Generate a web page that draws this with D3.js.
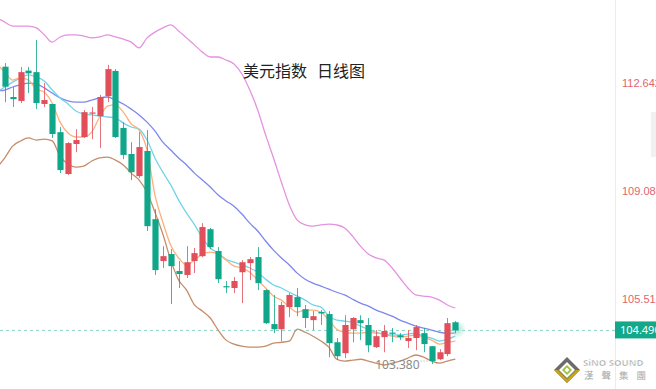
<!DOCTYPE html>
<html>
<head>
<meta charset="utf-8">
<script src="https://cdn.jsdelivr.net/npm/d3@7"></script>
<style>
  html, body { margin: 0; padding: 0; background: #fff; overflow: hidden; }
  svg { display: block; font-family: "Noto Sans", "Noto Sans CJK SC", sans-serif; }
</style>
</head>
<body>
<div id="chart"></div>
<script>
var chart_width  = 656;
var chart_height = 389;
var axis_x = 615;

// daily candles: open / high / low / close
var opens  = [113.19,112.19,112.06,113.06,113.01,111.96,111.96,111.03,109.65,110.64,110.87,111.65,111.56,112.22,113.05,111.17,110.31,109.58,110.41,108.16,106.78,107.01,106.45,106.32,106.78,106.94,107.83,107.11,105.95,105.89,106.41,106.71,106.91,105.82,104.70,104.53,105.26,105.59,105.19,104.83,105.10,105.03,104.10,103.74,104.53,104.83,104.67,103.94,104.27,104.42,104.33,104.14,104.24,104.40,103.97,103.54,103.71,104.76];
var highs  = [113.31,112.52,113.18,113.18,114.07,112.65,111.96,111.20,110.70,111.13,111.76,111.86,112.26,113.25,113.11,111.36,110.70,111.03,111.10,108.49,107.27,107.17,106.78,107.27,107.21,108.03,107.87,107.24,106.12,106.25,106.81,106.91,107.24,105.85,105.66,105.43,105.72,105.89,105.33,105.13,105.16,105.13,104.24,104.99,104.93,104.99,104.90,104.50,104.67,104.57,104.40,104.50,104.67,104.57,103.97,103.87,104.90,104.80];
var lows   = [112.02,111.86,111.99,112.32,111.79,111.86,110.84,109.68,109.62,110.37,110.84,110.80,110.51,112.02,110.84,110.14,109.45,109.52,107.77,106.32,106.55,105.36,105.89,106.22,106.38,106.91,107.17,106.05,105.72,105.72,105.39,106.15,105.82,104.70,104.40,104.14,104.93,104.96,104.57,104.50,104.67,103.61,103.51,103.58,104.10,104.17,103.77,103.91,103.77,104.10,104.17,103.91,103.84,103.77,103.38,103.51,103.64,104.40];
var closes = [112.53,112.12,113.01,112.97,111.99,112.09,110.97,109.78,110.67,110.77,111.69,111.68,112.19,113.11,110.87,110.28,109.71,110.54,107.93,106.48,106.94,106.61,106.35,106.74,107.04,107.90,107.24,106.18,105.92,106.12,106.74,106.84,106.05,104.73,104.53,105.33,105.66,105.26,104.90,104.96,105.05,104.07,103.64,104.67,104.90,104.73,104.00,104.30,104.47,104.38,104.27,104.24,104.60,104.04,103.48,103.77,104.73,104.49];

// indicator lines, first value is the day before the first visible candle
var boll_upper = [114.80,114.66,114.53,114.53,114.53,114.47,114.24,114.00,114.17,114.24,114.24,114.20,114.14,114.17,114.24,114.17,114.10,114.00,113.81,114.14,114.33,114.47,114.57,114.37,114.14,113.91,113.67,113.51,113.51,113.41,113.28,112.95,112.42,111.76,110.94,110.18,109.38,108.63,108.13,107.97,107.93,107.97,108.00,107.97,107.87,107.60,107.27,107.01,106.88,106.81,106.55,106.22,105.89,105.66,105.62,105.59,105.49,105.33,105.23];
var boll_lower = [109.85,110.18,110.57,110.74,110.84,110.77,110.80,110.74,110.24,109.98,109.88,109.91,110.08,110.18,110.21,110.11,109.95,109.68,109.45,109.05,108.39,107.67,106.81,106.15,105.82,105.33,105.13,104.90,104.50,104.17,104.04,103.97,103.94,103.94,103.97,104.07,104.10,104.14,104.53,104.43,104.30,104.14,103.94,103.54,103.48,103.51,103.54,103.48,103.41,103.35,103.41,103.48,103.58,103.68,103.61,103.48,103.41,103.48,103.54];
var ma20 = [112.39,112.42,112.52,112.59,112.65,112.62,112.49,112.32,112.16,112.06,112.02,112.02,112.09,112.16,112.19,112.09,111.96,111.79,111.60,111.36,111.07,110.70,110.44,110.18,109.95,109.68,109.45,109.22,108.96,108.76,108.59,108.33,108.03,107.77,107.44,107.14,106.88,106.65,106.38,106.18,106.05,105.95,105.85,105.75,105.66,105.52,105.39,105.29,105.16,105.06,104.96,104.83,104.73,104.63,104.57,104.50,104.43,104.40,104.40];
var ma10 = [112.35,112.52,112.68,112.82,112.92,112.85,112.72,112.42,112.16,111.96,111.73,111.63,111.60,111.56,111.53,111.50,111.33,111.20,111.13,110.77,110.18,109.71,109.29,108.79,108.36,107.98,107.54,107.21,107.04,106.84,106.74,106.65,106.55,106.41,106.18,105.99,105.89,105.75,105.62,105.49,105.33,105.26,104.96,104.83,104.80,104.76,104.63,104.53,104.43,104.37,104.34,104.34,104.37,104.40,104.30,104.24,104.14,104.20,104.30];
var ma5  = [113.28,113.01,112.75,112.82,112.75,112.45,112.35,111.99,111.36,111.00,110.87,110.87,111.03,111.53,111.89,111.93,111.69,111.30,111.10,110.44,108.96,108.06,107.30,106.88,106.65,106.81,107.01,107.07,107.01,106.81,106.61,106.55,106.41,106.15,105.89,105.62,105.49,105.26,105.09,105.16,105.16,105.09,104.83,104.53,104.43,104.40,104.40,104.43,104.40,104.37,104.30,104.27,104.30,104.34,104.27,104.17,104.04,104.10,104.14];

var y_ticks = [112.642, 109.080, 105.517];
var last_price = 104.490;
var title = ['美元指数', '日线图'];

var up_color = '#e04f5a';
var down_color = '#10a689';

var candles = opens.map((o, i) => ({i: i, open: o, high: highs[i], low: lows[i], close: closes[i]}));

var svg = d3.select('#chart')
    .append('svg')
    .attr('width', chart_width)
    .attr('height', chart_height);

var defs = svg.append('defs');
defs.append('clipPath').attr('id', 'plot')
    .append('rect').attr('x', 0).attr('y', 0).attr('width', axis_x).attr('height', chart_height);
var glow = defs.append('radialGradient').attr('id', 'glow');
glow.append('stop').attr('offset', '0%').attr('stop-color', '#9fe3d2').attr('stop-opacity', 0.9);
glow.append('stop').attr('offset', '100%').attr('stop-color', '#9fe3d2').attr('stop-opacity', 0);

// scales
var x_scale = d3.scaleLinear()
    .domain([-0.6, 77.2])
    .range([0, axis_x]);

var y_scale = d3.scaleLinear()
    .domain([105.517, 112.642])
    .range([299.3, 83.3]);

var step = x_scale(1) - x_scale(0);
var body_w = step * 0.78;

// axis line + scrollbar bit
svg.append('line')
    .attr('x1', axis_x + 0.5).attr('x2', axis_x + 0.5)
    .attr('y1', 0).attr('y2', chart_height)
    .attr('stroke', '#ececec');
svg.append('rect')
    .attr('x', 651).attr('y', 112).attr('width', 5).attr('height', 45)
    .attr('fill', '#f1f1f1');

var plot = svg.append('g').attr('clip-path', 'url(#plot)');

// current price dashed line
plot.append('line')
    .attr('x1', 0).attr('x2', axis_x)
    .attr('y1', y_scale(last_price)).attr('y2', y_scale(last_price))
    .attr('stroke', '#8fd3c5')
    .attr('stroke-dasharray', '3,3');

// title
var t = svg.append('text')
    .attr('x', 243)
    .attr('y', 77)
    .attr('font-family', '"Noto Sans CJK SC", sans-serif')
    .attr('font-size', 16)
    .attr('fill', '#222');
t.append('tspan').text(title[0]);
t.append('tspan').attr('dx', 10).text(title[1]);

// lines
var line_gen = d3.line()
    .x((d, i) => x_scale(i - 1))
    .y(d => y_scale(d))
    .curve(d3.curveMonotoneX);

var series = [
    {data: boll_upper, color: '#e592e0'},
    {data: boll_lower, color: '#c48d6b'},
    {data: ma20, color: '#7f86ee'},
    {data: ma10, color: '#72d4ea'},
    {data: ma5, color: '#fdb07c'}
];

plot.selectAll('path.ind')
    .data(series)
    .enter()
    .append('path')
    .attr('class', 'ind')
    .attr('d', d => line_gen(d.data))
    .attr('fill', 'none')
    .attr('stroke', d => d.color)
    .attr('stroke-width', 1.3);

// glow on the last candle
var last = candles[candles.length - 1];
plot.append('circle')
    .attr('cx', x_scale(last.i) + 2)
    .attr('cy', y_scale((last.open + last.close) / 2) + 3)
    .attr('r', 9)
    .attr('fill', 'url(#glow)');

// candles
var cg = plot.selectAll('g.candle')
    .data(candles)
    .enter()
    .append('g')
    .attr('class', 'candle');

cg.append('line')
    .attr('x1', d => Math.round(x_scale(d.i)) + 0.5)
    .attr('x2', d => Math.round(x_scale(d.i)) + 0.5)
    .attr('y1', d => y_scale(d.high))
    .attr('y2', d => y_scale(d.low))
    .attr('stroke', d => d.close >= d.open ? up_color : down_color)
    .attr('stroke-opacity', 0.8)
    .attr('stroke-width', 1);

cg.append('rect')
    .attr('x', d => Math.round(x_scale(d.i)) + 0.5 - body_w / 2)
    .attr('y', d => y_scale(Math.max(d.open, d.close)))
    .attr('width', body_w)
    .attr('height', d => Math.max(1.2, Math.abs(y_scale(d.open) - y_scale(d.close))))
    .attr('fill', d => d.close >= d.open ? up_color : down_color);

// lowest price marker
var low_i = d3.minIndex(lows);
var low_x = x_scale(low_i);
var low_y = y_scale(lows[low_i]);
svg.append('text')
    .attr('x', low_x - 12)
    .attr('y', low_y + 5)
    .attr('text-anchor', 'end')
    .attr('font-size', 12)
    .attr('fill', '#8a8a8a')
    .text(d3.format('.3f')(lows[low_i]));
svg.append('line')
    .attr('x1', low_x - 11).attr('x2', low_x - 2)
    .attr('y1', low_y - 3).attr('y2', low_y - 3)
    .attr('stroke', '#aaa')
    .attr('stroke-dasharray', '1,2');

// right axis
var y_axis = d3.axisRight(y_scale)
    .tickValues(y_ticks)
    .tickSize(0)
    .tickPadding(7)
    .tickFormat(d3.format('.3f'));

var ax = svg.append('g')
    .attr('transform', `translate(${axis_x}, 0)`)
    .call(y_axis);
ax.select('.domain').remove();
ax.selectAll('text')
    .attr('font-size', 11)
    .attr('fill', '#e2646c');

// last price tag
svg.append('rect')
    .attr('x', axis_x)
    .attr('y', y_scale(last_price) - 9)
    .attr('width', chart_width - axis_x)
    .attr('height', 17)
    .attr('fill', '#12a88a');
svg.append('text')
    .attr('x', axis_x + 5)
    .attr('y', y_scale(last_price) + 4)
    .attr('font-size', 11)
    .attr('fill', '#fff')
    .text(d3.format('.3f')(last_price));

// logo
var logo = svg.append('g').attr('transform', 'translate(567, 370)');
logo.append('path').attr('d', 'M0,-13 L13,0 L0,13 L-13,0 Z').attr('fill', '#6b6b6b');
logo.append('path').attr('d', 'M-13,0 L0,13 L13,0 L9,0 L0,9 L-9,0 Z').attr('fill', '#c9a21c');
logo.append('path').attr('d', 'M0,-8 L8,0 L0,8 L-8,0 Z').attr('fill', '#fff');
logo.append('path').attr('d', 'M0,-5 L5,0 L0,5 L-5,0 Z').attr('fill', '#9cc23a');
logo.append('path').attr('d', 'M0,-2.5 L2.5,0 L0,2.5 L-2.5,0 Z').attr('fill', '#fff');
svg.append('text')
    .attr('x', 583).attr('y', 366)
    .attr('font-size', 9.5)
    .attr('font-weight', 'bold')
    .attr('fill', '#9a9a9a')
    .attr('stroke', '#fff').attr('stroke-width', 0.5)
    .text('SiNO SOUND');
svg.append('text')
    .attr('x', 584).attr('y', 379)
    .attr('font-family', '"Noto Sans CJK TC", sans-serif')
    .attr('font-size', 9.5)
    .attr('letter-spacing', 8)
    .attr('fill', '#a5a5a5')
    .text('漢聲集團');
</script>
</body>
</html>
